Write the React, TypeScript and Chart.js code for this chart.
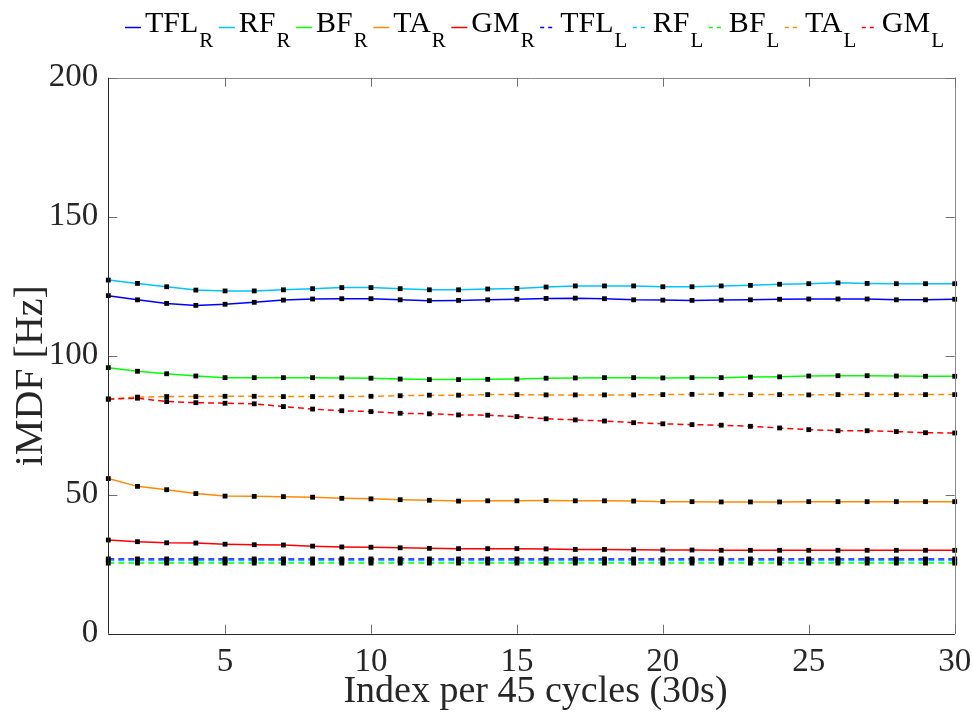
import React, { useEffect, useRef } from "react";
import { Chart, registerables } from "chart.js";

Chart.register(...registerables);

const cycles: number[] = [1, 2, 3, 4, 5, 6, 7, 8, 9, 10, 11, 12, 13, 14, 15, 16, 17, 18, 19, 20, 21, 22, 23, 24, 25, 26, 27, 28, 29, 30];

const TFL_R = [121.6, 120.1, 118.8, 118.1, 118.5, 119.2, 120.0, 120.4, 120.5, 120.5, 120.1, 119.8, 119.9, 120.1, 120.3, 120.6, 120.7, 120.5, 120.1, 120.0, 119.9, 120.0, 120.1, 120.3, 120.4, 120.4, 120.4, 120.1, 120.1, 120.3];
const RF_R = [127.2, 126.0, 124.8, 123.6, 123.3, 123.3, 123.7, 124.1, 124.5, 124.5, 124.1, 123.7, 123.7, 124.0, 124.2, 124.7, 125.1, 125.1, 125.1, 124.8, 124.8, 125.1, 125.3, 125.7, 125.9, 126.2, 126.0, 125.9, 125.9, 125.9];
const BF_R = [95.7, 94.4, 93.5, 92.7, 92.1, 92.1, 92.1, 92.1, 92.0, 91.9, 91.6, 91.4, 91.4, 91.5, 91.6, 91.9, 92.0, 92.1, 92.1, 92.0, 92.1, 92.1, 92.3, 92.4, 92.7, 92.8, 92.8, 92.7, 92.6, 92.6];
const TA_R = [55.8, 53.0, 51.8, 50.4, 49.5, 49.4, 49.3, 49.1, 48.7, 48.5, 48.2, 48.0, 47.7, 47.8, 47.8, 47.9, 47.8, 47.8, 47.7, 47.5, 47.5, 47.4, 47.4, 47.4, 47.5, 47.5, 47.5, 47.5, 47.5, 47.5];
const GM_R = [33.7, 33.1, 32.7, 32.6, 32.2, 32.0, 31.9, 31.5, 31.2, 31.1, 30.9, 30.7, 30.6, 30.6, 30.6, 30.5, 30.3, 30.3, 30.2, 30.1, 30.1, 30.0, 30.0, 30.0, 30.0, 30.0, 30.0, 30.0, 30.0, 30.0];
const TFL_L = [26.9, 26.9, 26.9, 26.9, 26.9, 26.9, 26.9, 26.9, 26.9, 26.9, 26.9, 26.9, 26.9, 26.9, 26.9, 26.9, 26.9, 26.9, 26.9, 26.9, 26.9, 26.9, 26.9, 26.9, 26.9, 26.9, 26.9, 26.9, 26.9, 26.9];
const RF_L = [26.3, 26.3, 26.3, 26.3, 26.3, 26.3, 26.3, 26.3, 26.3, 26.3, 26.3, 26.3, 26.3, 26.3, 26.3, 26.3, 26.3, 26.3, 26.3, 26.3, 26.3, 26.3, 26.3, 26.3, 26.3, 26.3, 26.3, 26.3, 26.3, 26.3];
const BF_L = [25.4, 25.4, 25.4, 25.4, 25.4, 25.4, 25.4, 25.4, 25.4, 25.4, 25.4, 25.4, 25.4, 25.4, 25.4, 25.4, 25.4, 25.4, 25.4, 25.4, 25.4, 25.4, 25.4, 25.4, 25.4, 25.4, 25.4, 25.4, 25.4, 25.4];
const TA_L = [84.4, 85.1, 85.3, 85.3, 85.4, 85.4, 85.3, 85.3, 85.3, 85.4, 85.6, 85.8, 85.8, 86.0, 86.0, 85.9, 85.9, 85.9, 85.9, 86.0, 86.1, 86.1, 86.0, 86.0, 85.9, 86.0, 86.0, 86.0, 86.0, 86.0];
const GM_L = [84.4, 84.7, 83.5, 83.1, 82.9, 82.7, 81.7, 80.8, 80.2, 79.9, 79.3, 79.1, 78.7, 78.6, 78.1, 77.3, 76.9, 76.5, 75.9, 75.5, 75.2, 75.0, 74.6, 74.0, 73.4, 73.0, 73.0, 72.7, 72.3, 72.2];

const xTicks = [5, 10, 15, 20, 25, 30];
const yTicks = [0, 50, 100, 150, 200];

const seriesNames = ["TFL", "RF", "BF", "TA", "GM", "TFL", "RF", "BF", "TA", "GM"];
const seriesSubs = ["R", "R", "R", "R", "R", "L", "L", "L", "L", "L"];
const seriesValues = [TFL_R, RF_R, BF_R, TA_R, GM_R, TFL_L, RF_L, BF_L, TA_L, GM_L];
const seriesColors = ["#0000ff", "#00c3ff", "#00ff00", "#ff8a00", "#ff0000", "#0000ff", "#00c3ff", "#00ff00", "#ff8a00", "#ff0000"];

const xLabel = "Index per 45 cycles (30s)";
const yLabel = "iMDF [Hz]";

const FONT = '"Liberation Serif", "Times New Roman", serif';
const AXIS_COLOR = "#262626";

const boxPlugin = {
  id: "boxTicks",
  afterDraw(chart: any) {
    const ctx = chart.ctx;
    const { left, right, top, bottom } = chart.chartArea;
    const xs = chart.scales.x;
    const ys = chart.scales.y;
    ctx.save();
    ctx.setLineDash([]);
    ctx.lineWidth = 1;
    ctx.strokeStyle = "#8a8a8a";
    ctx.beginPath();
    ctx.moveTo(left, Math.round(top) + 0.5);
    ctx.lineTo(right, Math.round(top) + 0.5);
    ctx.moveTo(Math.round(right) + 0.5, top);
    ctx.lineTo(Math.round(right) + 0.5, bottom);
    ctx.stroke();
    ctx.strokeStyle = "#707070";
    ctx.beginPath();
    for (const v of yTicks) {
      const y = Math.round(ys.getPixelForValue(v)) + 0.5;
      ctx.moveTo(left, y);
      ctx.lineTo(left + 9, y);
      ctx.moveTo(right, y);
      ctx.lineTo(right - 9, y);
    }
    for (const v of xTicks) {
      const x = Math.round(xs.getPixelForValue(v)) + 0.5;
      ctx.moveTo(x, bottom);
      ctx.lineTo(x, bottom - 9);
      ctx.moveTo(x, top);
      ctx.lineTo(x, top + 9);
    }
    ctx.stroke();
    ctx.strokeStyle = AXIS_COLOR;
    ctx.beginPath();
    ctx.moveTo(Math.round(left) + 0.5, top);
    ctx.lineTo(Math.round(left) + 0.5, bottom);
    ctx.moveTo(left, Math.round(bottom) + 0.5);
    ctx.lineTo(right, Math.round(bottom) + 0.5);
    ctx.stroke();

    // axis titles
    ctx.fillStyle = AXIS_COLOR;
    ctx.textAlign = "center";
    ctx.textBaseline = "alphabetic";
    ctx.font = `38px ${FONT}`;
    ctx.fillText(xLabel, (left + right) / 2 + 4, 702);
    ctx.save();
    ctx.translate(42, (top + bottom) / 2 + 20);
    ctx.rotate(-Math.PI / 2);
    ctx.font = `40px ${FONT}`;
    ctx.fillText(yLabel, 0, 0);
    ctx.restore();
    ctx.restore();
  },
};

const legendPlugin = {
  id: "subLegend",
  afterDraw(chart: any) {
    const ctx = chart.ctx;
    ctx.save();
    let x = 125;
    const lineY = 27.5;
    const baseMain = 32;
    const baseSub = 47;
    for (let i = 0; i < seriesNames.length; i++) {
      const dashed = seriesSubs[i] === "L";
      ctx.strokeStyle = seriesColors[i];
      ctx.lineWidth = 1.5;
      ctx.setLineDash(dashed ? [4, 4] : []);
      ctx.beginPath();
      ctx.moveTo(x, lineY);
      ctx.lineTo(x + 16, lineY);
      ctx.stroke();
      ctx.setLineDash([]);
      x += 20;
      ctx.fillStyle = "#000";
      ctx.textBaseline = "alphabetic";
      ctx.textAlign = "left";
      ctx.font = `30px ${FONT}`;
      ctx.fillText(seriesNames[i], x, baseMain);
      x += ctx.measureText(seriesNames[i]).width + 1;
      ctx.font = `21px ${FONT}`;
      ctx.fillText(seriesSubs[i], x, baseSub);
      x += ctx.measureText(seriesSubs[i]).width + 5.5;
    }
    ctx.restore();
  },
};

export default function App() {
  const canvasRef = useRef<HTMLCanvasElement | null>(null);

  useEffect(() => {
    document.body.style.margin = "0";
    const canvas = canvasRef.current;
    if (!canvas) return;
    const datasets = seriesValues.map((vals, i) => {
      const dashed = seriesSubs[i] === "L";
      return {
        label: seriesNames[i] + "_" + seriesSubs[i],
        data: vals.map((v, j) => ({ x: cycles[j], y: v })),
        borderColor: seriesColors[i],
        backgroundColor: "#000",
        borderWidth: 1.5,
        borderDash: dashed ? [6, 4] : [],
        pointStyle: "rect",
        pointRadius: 3.4,
        pointBorderWidth: 0,
        pointBackgroundColor: "#000",
        pointBorderColor: "#000",
        tension: 0,
        clip: false as any,
        order: 10 - i,
      };
    });
    const gridX = {
      display: true,
      drawOnChartArea: false,
      drawTicks: true,
      tickLength: 9,
      color: "rgba(0,0,0,0)",
    };
    const gridY = {
      display: true,
      drawOnChartArea: false,
      drawTicks: true,
      tickLength: 10,
      color: "rgba(0,0,0,0)",
    };
    const chart = new Chart(canvas, {
      type: "line",
      data: { datasets },
      options: {
        responsive: false,
        animation: false,
        devicePixelRatio: 1,
        layout: { padding: { top: 77.7, right: 18.3, left: 0, bottom: 0 } },
        plugins: { legend: { display: false }, tooltip: { enabled: false } },
        scales: {
          x: {
            type: "linear",
            min: 1,
            max: 30,
            afterBuildTicks: (scale: any) => {
              scale.ticks = xTicks.map((v) => ({ value: v }));
            },
            afterFit: (scale: any) => {
              scale.height = 93.3;
            },
            grid: gridX as any,
            border: { display: false },
            ticks: {
              padding: 0,
              color: AXIS_COLOR,
              font: { family: FONT, size: 33 },
              maxRotation: 0,
              autoSkip: false,
            },
          },
          y: {
            type: "linear",
            min: 0,
            max: 200,
            afterBuildTicks: (scale: any) => {
              scale.ticks = yTicks.map((v) => ({ value: v }));
            },
            afterFit: (scale: any) => {
              scale.width = 108.3;
            },
            grid: gridY as any,
            border: { display: false },
            ticks: {
              padding: 0,
              color: AXIS_COLOR,
              font: { family: FONT, size: 33 },
              autoSkip: false,
            },
          },
        },
      },
      plugins: [boxPlugin, legendPlugin],
    });
    return () => {
      chart.destroy();
    };
  }, []);

  return (
    <canvas
      ref={canvasRef}
      width={973}
      height={727}
      style={{ display: "block", width: "973px", height: "727px" }}
    />
  );
}
